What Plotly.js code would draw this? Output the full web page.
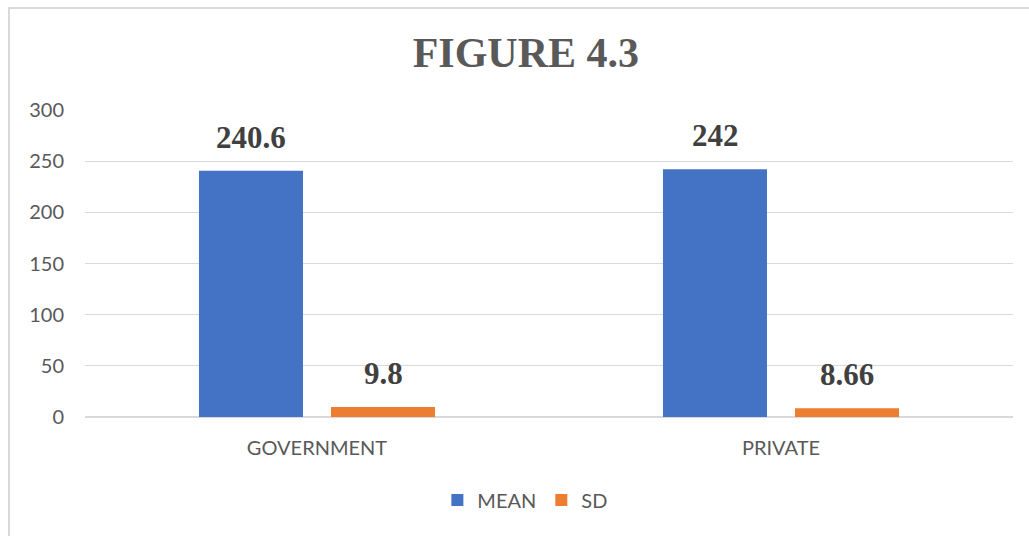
<!DOCTYPE html>
<html>
<head>
<meta charset="utf-8">
<script src="https://cdn.plot.ly/plotly-3.0.1.min.js"></script>
<style>
html,body{margin:0;padding:0;background:#fff;overflow:hidden;}
#chart{position:absolute;left:0;top:0;width:1029px;height:536px;}
#frame{position:absolute;left:8px;top:7px;width:1040px;height:560px;border:2px solid #d9d9d9;box-sizing:border-box;pointer-events:none;}
</style>
</head>
<body>
<div id="chart"></div>
<div id="frame"></div>
<script>
var categories = ["GOVERNMENT", "PRIVATE"];
var meanValues = [240.6, 242];
var sdValues = [9.8, 8.66];
var meanLabels = ["240.6", "242"];
var sdLabels = ["9.8", "8.66"];
var tickVals = [0, 50, 100, 150, 200, 250, 300];

var sansFont = "Lato, 'Liberation Sans', sans-serif";
var serifFont = "'Liberation Serif', 'Times New Roman', serif";

var traces = [
  {type: "bar", name: "MEAN", x: categories, y: meanValues, marker: {color: "#4472C4"}, hoverinfo: "none"},
  {type: "bar", name: "SD", x: categories, y: sdValues, marker: {color: "#ED7D31"}, hoverinfo: "none"}
];

var annotations = [];
categories.forEach(function (c, i) {
  annotations.push({x: c, y: meanValues[i], xref: "x", yref: "y", text: "<b>" + meanLabels[i] + "</b>",
    showarrow: false, xshift: -66, yshift: 14, yanchor: "bottom",
    font: {family: serifFont, size: 31, color: "#404040"}});
  annotations.push({x: c, y: sdValues[i], xref: "x", yref: "y", text: "<b>" + sdLabels[i] + "</b>",
    showarrow: false, xshift: 66, yshift: 14, yanchor: "bottom",
    font: {family: serifFont, size: 31, color: "#404040"}});
});

var layout = {
  width: 1029, height: 536,
  margin: {l: 85, r: 16, t: 110, b: 119},
  paper_bgcolor: "rgba(0,0,0,0)", plot_bgcolor: "rgba(0,0,0,0)",
  barmode: "group", bargap: 0.431, bargroupgap: 0.212,
  title: {text: "<b>FIGURE 4.3</b>", x: 0.511, xref: "container", y: 0.903, yref: "container", yanchor: "middle",
    font: {family: serifFont, size: 42, color: "#595959"}},
  xaxis: {type: "category", showgrid: false, zeroline: false, showline: false, ticks: "",
    tickfont: {family: sansFont, size: 20, color: "#595959"}, ticklabelstandoff: 17},
  yaxis: {range: [0, 300], tickvals: tickVals, showgrid: true, gridcolor: "#d9d9d9", gridwidth: 1,
    zeroline: true, zerolinecolor: "#d9d9d9", zerolinewidth: 1.5, showline: false, ticks: "",
    tickfont: {family: sansFont, size: 20, color: "#595959"}, ticklabelstandoff: 20},
  showlegend: true,
  legend: {orientation: "h", x: 0.474, xanchor: "center", y: -0.27, yanchor: "middle",
    font: {family: sansFont, size: 20, color: "#595959"}, itemwidth: 30, traceorder: "normal"},
  annotations: annotations
};

Plotly.newPlot("chart", traces, layout, {displayModeBar: false, staticPlot: true});
</script>
</body>
</html>
